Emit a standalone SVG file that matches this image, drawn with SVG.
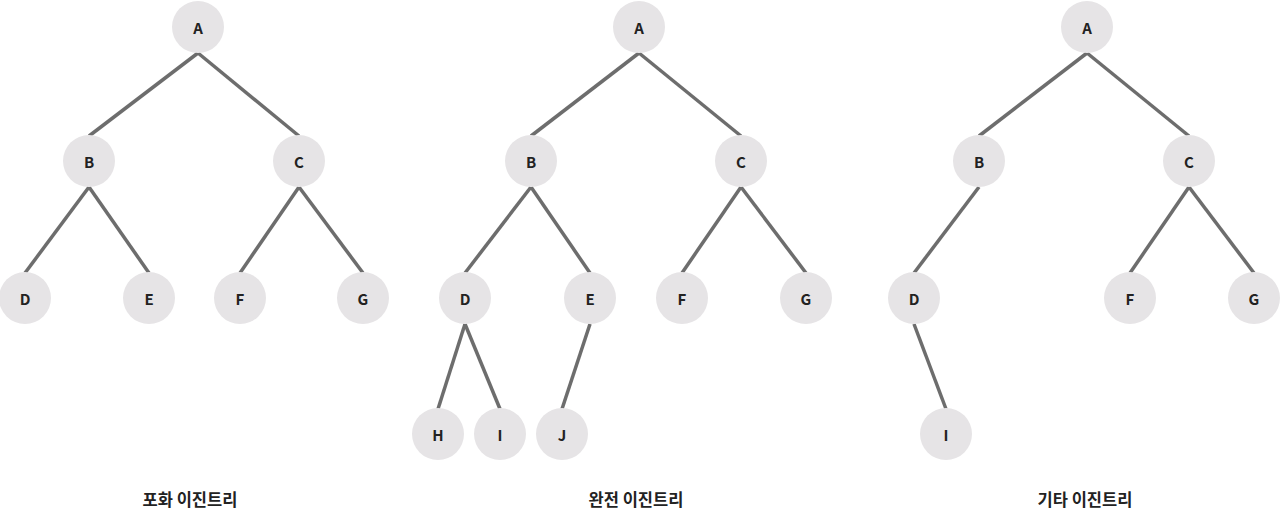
<svg xmlns="http://www.w3.org/2000/svg" width="1280" height="523" viewBox="0 0 1280 523">
<style>
.n circle{fill:#e6e4e6}
.n text{font-family:"Noto Sans CJK KR","Noto Sans",sans-serif;font-weight:bold;font-size:15px;fill:#222;text-anchor:middle;dominant-baseline:central}
.e line{stroke:#6d6d6d;stroke-width:3.5}
.lbl{font-family:"Noto Sans CJK KR","Noto Sans",sans-serif;font-weight:bold;font-size:16.5px;fill:#222;text-anchor:middle}
</style>
<rect width="1280" height="523" fill="#fff"/>
<g id="connectors" class="e">
<line x1="198" y1="53" x2="89" y2="136"/>
<line x1="198" y1="53" x2="299" y2="136"/>
<line x1="89" y1="187" x2="25" y2="273"/>
<line x1="89" y1="187" x2="149" y2="273"/>
<line x1="299" y1="187" x2="240" y2="273"/>
<line x1="299" y1="187" x2="363" y2="273"/>
<line x1="639" y1="53" x2="531" y2="136"/>
<line x1="639" y1="53" x2="741" y2="136"/>
<line x1="531" y1="187" x2="465" y2="273"/>
<line x1="531" y1="187" x2="590" y2="273"/>
<line x1="741" y1="187" x2="682" y2="273"/>
<line x1="741" y1="187" x2="806" y2="273"/>
<line x1="465" y1="324" x2="438" y2="409"/>
<line x1="465" y1="324" x2="500" y2="409"/>
<line x1="590" y1="324" x2="562" y2="409"/>
<line x1="1087" y1="53" x2="979" y2="136"/>
<line x1="1087" y1="53" x2="1189" y2="136"/>
<line x1="979" y1="187" x2="914" y2="273"/>
<line x1="1189" y1="187" x2="1130" y2="273"/>
<line x1="1189" y1="187" x2="1254" y2="273"/>
<line x1="914" y1="324" x2="946" y2="409"/>
</g>
<g id="t1A" class="n"><circle cx="198" cy="27" r="26"/><text x="198" y="27">A</text></g>
<g id="t1B" class="n"><circle cx="89" cy="161" r="26"/><text x="89" y="161">B</text></g>
<g id="t1C" class="n"><circle cx="299" cy="161" r="26"/><text x="299" y="161">C</text></g>
<g id="t1D" class="n"><circle cx="25" cy="298" r="26"/><text x="25" y="298">D</text></g>
<g id="t1E" class="n"><circle cx="149" cy="298" r="26"/><text x="149" y="298">E</text></g>
<g id="t1F" class="n"><circle cx="240" cy="298" r="26"/><text x="240" y="298">F</text></g>
<g id="t1G" class="n"><circle cx="363" cy="298" r="26"/><text x="363" y="298">G</text></g>
<g id="t2A" class="n"><circle cx="639" cy="27" r="26"/><text x="639" y="27">A</text></g>
<g id="t2B" class="n"><circle cx="531" cy="161" r="26"/><text x="531" y="161">B</text></g>
<g id="t2C" class="n"><circle cx="741" cy="161" r="26"/><text x="741" y="161">C</text></g>
<g id="t2D" class="n"><circle cx="465" cy="298" r="26"/><text x="465" y="298">D</text></g>
<g id="t2E" class="n"><circle cx="590" cy="298" r="26"/><text x="590" y="298">E</text></g>
<g id="t2F" class="n"><circle cx="682" cy="298" r="26"/><text x="682" y="298">F</text></g>
<g id="t2G" class="n"><circle cx="806" cy="298" r="26"/><text x="806" y="298">G</text></g>
<g id="t2H" class="n"><circle cx="438" cy="434" r="26"/><text x="438" y="434">H</text></g>
<g id="t2I" class="n"><circle cx="500" cy="434" r="26"/><text x="500" y="434">I</text></g>
<g id="t2J" class="n"><circle cx="562" cy="434" r="26"/><text x="562" y="434">J</text></g>
<g id="t3A" class="n"><circle cx="1087" cy="27" r="26"/><text x="1087" y="27">A</text></g>
<g id="t3B" class="n"><circle cx="979" cy="161" r="26"/><text x="979" y="161">B</text></g>
<g id="t3C" class="n"><circle cx="1189" cy="161" r="26"/><text x="1189" y="161">C</text></g>
<g id="t3D" class="n"><circle cx="914" cy="298" r="26"/><text x="914" y="298">D</text></g>
<g id="t3F" class="n"><circle cx="1130" cy="298" r="26"/><text x="1130" y="298">F</text></g>
<g id="t3G" class="n"><circle cx="1254" cy="298" r="26"/><text x="1254" y="298">G</text></g>
<g id="t3I" class="n"><circle cx="946" cy="434" r="26"/><text x="946" y="434">I</text></g>
<g id="labels">
<text class="lbl" x="190" y="506">포화 이진트리</text>
<text class="lbl" x="636" y="506">완전 이진트리</text>
<text class="lbl" x="1085" y="506">기타 이진트리</text>
</g>
</svg>
